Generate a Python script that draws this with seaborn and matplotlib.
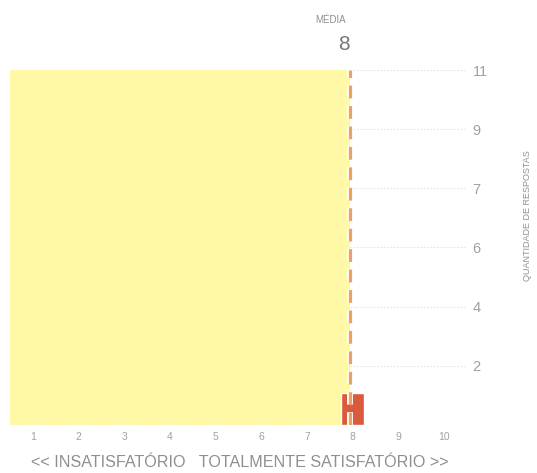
import numpy as np
import pandas as pd
import seaborn as sns
from matplotlib import pyplot as plt
import matplotlib.patheffects as pe

sns.set_style('white')
plt.rcParams['font.family'] = ['Liberation Sans', 'DejaVu Sans']

# data
ratings = [1, 2, 3, 4, 5, 6, 7, 8, 9, 10]
counts = [0, 0, 0, 0, 0, 0, 0, 1, 0, 0]
media = 8
y_max = 11
y_ticks = [11 * i / 6 for i in range(1, 7)]
y_labels = ['2', '4', '6', '7', '9', '11']

grey = '#8f8f8f'
yellow = '#fff8a6'
red = '#d95a3c'
orange = '#efa25e'

df = pd.DataFrame({'nota': ratings, 'respostas': counts})

fig = plt.figure(figsize=(5.37, 4.73), dpi=100)
ax = fig.add_axes([0.019, 0.1015, 0.8506, 0.7505])

# faint grid first, then the yellow band over it
for yt in y_ticks:
    ax.axhline(yt, color='#e4e4e4', lw=0.8, ls=(0, (1.5, 1.5)), zorder=0)
ax.axvspan(0.5, media - 0.05, color=yellow, lw=0, zorder=1)

sns.barplot(data=df, x='nota', y='respostas', native_scale=True, width=0.5,
            color=red, saturation=1, ax=ax, zorder=2)

ax.axvline(media - 0.05, color=orange, lw=2.3, dashes=(4, 2.4), zorder=3,
           path_effects=[pe.withStroke(linewidth=4.3, foreground='white')])

ax.set_xlim(0.5, 10.5)
ax.set_ylim(0, y_max)
ax.set_xticks(ratings)
ax.set_xticklabels([str(r) for r in ratings], fontsize=7.5, color='#a0a0a0')
ax.yaxis.tick_right()
ax.set_yticks(y_ticks)
ax.set_yticklabels(y_labels, fontsize=10.5, color='#a0a0a0')
ax.tick_params(axis='x', length=0, pad=5)
ax.tick_params(axis='y', length=0, pad=4)
ax.set_xlabel('')
ax.set_ylabel('')
sns.despine(ax=ax, left=True, bottom=True, right=True, top=True)

fig.text(0.645, 0.957, 'MÉDIA', fontsize=7, color=grey, ha='right', va='center')
fig.text(0.651, 0.905, str(media), fontsize=15, color='#777777', ha='right', va='center')
fig.text(0.058, 0.023, '<< INSATISFATÓRIO   TOTALMENTE SATISFATÓRIO >>', fontsize=11.6,
         color=grey, ha='left', va='center')
fig.text(0.982, 0.545, 'QUANTIDADE DE RESPOSTAS', fontsize=6.5, color=grey,
         rotation=90, ha='center', va='center')

plt.savefig('out.png', dpi=100)
